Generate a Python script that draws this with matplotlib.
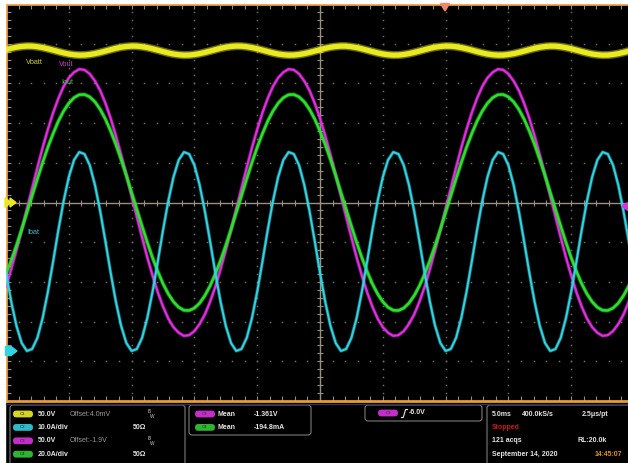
import numpy as np
import matplotlib
matplotlib.use("Agg")
import matplotlib.pyplot as plt
from matplotlib.patches import FancyBboxPatch, Polygon, Rectangle

W, H = 628, 463
fig = plt.figure(figsize=(W / 100, H / 100), dpi=100, facecolor="black")

# Acquisition time base (ms): 5 ms/div over 10 divisions
t_ms = np.linspace(0, 50, 121)

# C1: battery voltage (V)
vbat = [192.5, 194.2, 195.6, 196.5, 197.0, 196.9, 196.2, 195.1, 193.6, 191.9,
        190.1, 188.4, 187.0, 186.1, 185.6, 185.7, 186.4, 187.5, 189.0, 190.7,
        192.5, 194.2, 195.6, 196.5, 197.0, 196.9, 196.2, 195.1, 193.6, 191.9,
        190.1, 188.4, 187.0, 186.1, 185.6, 185.7, 186.4, 187.5, 189.0, 190.7,
        192.5, 194.2, 195.6, 196.5, 197.0, 196.9, 196.2, 195.1, 193.6, 191.9,
        190.1, 188.4, 187.0, 186.1, 185.6, 185.7, 186.4, 187.5, 189.0, 190.7,
        192.5, 194.2, 195.6, 196.5, 197.0, 196.9, 196.2, 195.1, 193.6, 191.9,
        190.1, 188.4, 187.0, 186.1, 185.6, 185.7, 186.4, 187.5, 189.0, 190.7,
        192.5, 194.2, 195.6, 196.5, 197.0, 196.9, 196.2, 195.1, 193.6, 191.9,
        190.1, 188.4, 187.0, 186.1, 185.6, 185.7, 186.4, 187.5, 189.0, 190.7,
        192.5, 194.2, 195.6, 196.5, 197.0, 196.9, 196.2, 195.1, 193.6, 191.9,
        190.1, 188.4, 187.0, 186.1, 185.6, 185.7, 186.4, 187.5, 189.0, 190.7,
        192.5]

# C2: battery current (A)
ibat = [19.8, 12.5, 6.4, 2.1, 0.1, 0.6, 3.4, 8.4, 15.0, 22.6,
        30.5, 37.8, 43.9, 48.2, 50.2, 49.7, 46.9, 41.9, 35.3, 27.7,
        19.8, 12.5, 6.4, 2.1, 0.1, 0.6, 3.4, 8.4, 15.0, 22.6,
        30.5, 37.8, 43.9, 48.2, 50.2, 49.7, 46.9, 41.9, 35.3, 27.7,
        19.8, 12.5, 6.4, 2.1, 0.1, 0.6, 3.4, 8.4, 15.0, 22.6,
        30.5, 37.8, 43.9, 48.2, 50.2, 49.7, 46.9, 41.9, 35.3, 27.7,
        19.8, 12.5, 6.4, 2.1, 0.1, 0.6, 3.4, 8.4, 15.0, 22.6,
        30.5, 37.8, 43.9, 48.2, 50.2, 49.7, 46.9, 41.9, 35.3, 27.7,
        19.8, 12.5, 6.4, 2.1, 0.1, 0.6, 3.4, 8.4, 15.0, 22.6,
        30.5, 37.8, 43.9, 48.2, 50.2, 49.7, 46.9, 41.9, 35.3, 27.7,
        19.8, 12.5, 6.4, 2.1, 0.1, 0.6, 3.4, 8.4, 15.0, 22.6,
        30.5, 37.8, 43.9, 48.2, 50.2, 49.7, 46.9, 41.9, 35.3, 27.7,
        19.8]

# C3: inverter output voltage (V)
vout = [-106, -84, -60, -35, -8, 18, 44, 69, 92, 113,
        131, 146, 157, 164, 168, 167, 162, 153, 141, 125,
        106, 84, 60, 35, 8, -18, -44, -69, -92, -113,
        -131, -146, -157, -164, -168, -167, -162, -153, -141, -125,
        -106, -84, -60, -35, -8, 18, 44, 69, 92, 113,
        131, 146, 157, 164, 168, 167, 162, 153, 141, 125,
        106, 84, 60, 35, 8, -18, -44, -69, -92, -113,
        -131, -146, -157, -164, -168, -167, -162, -153, -141, -125,
        -106, -84, -60, -35, -8, 18, 44, 69, 92, 113,
        131, 146, 157, 164, 168, 167, 162, 153, 141, 125,
        106, 84, 60, 35, 8, -18, -44, -69, -92, -113,
        -131, -146, -157, -164, -168, -167, -162, -153, -141, -125,
        -106]

# C4: inverter output current (A)
iout = [-36.0, -29.2, -21.6, -13.5, -5.1, 3.4, 11.9, 20.1, 27.8, 34.7,
        40.9, 46.0, 50.0, 52.8, 54.3, 54.4, 53.2, 50.7, 46.9, 42.0,
        36.0, 29.2, 21.6, 13.5, 5.1, -3.4, -11.9, -20.1, -27.8, -34.7,
        -40.9, -46.0, -50.0, -52.8, -54.3, -54.4, -53.2, -50.7, -46.9, -42.0,
        -36.0, -29.2, -21.6, -13.5, -5.1, 3.4, 11.9, 20.1, 27.8, 34.7,
        40.9, 46.0, 50.0, 52.8, 54.3, 54.4, 53.2, 50.7, 46.9, 42.0,
        36.0, 29.2, 21.6, 13.5, 5.1, -3.4, -11.9, -20.1, -27.8, -34.7,
        -40.9, -46.0, -50.0, -52.8, -54.3, -54.4, -53.2, -50.7, -46.9, -42.0,
        -36.0, -29.2, -21.6, -13.5, -5.1, 3.4, 11.9, 20.1, 27.8, 34.7,
        40.9, 46.0, 50.0, 52.8, 54.3, 54.4, 53.2, 50.7, 46.9, 42.0,
        36.0, 29.2, 21.6, 13.5, 5.1, -3.4, -11.9, -20.1, -27.8, -34.7,
        -40.9, -46.0, -50.0, -52.8, -54.3, -54.4, -53.2, -50.7, -46.9, -42.0,
        -36.0]

# Vertical settings per channel: (units per division, position in divisions)
ch_scale = {"C1": (50.0, 0.0), "C2": (10.0, -3.75), "C3": (50.0, 0.0), "C4": (20.0, 0.0)}
ch_color = {"C1": "#EAEA22", "C2": "#32D4E2", "C3": "#E02EE0", "C4": "#2EE02E"}


def to_div(vals, ch):
    per_div, pos = ch_scale[ch]
    return np.asarray(vals, dtype=float) / per_div + pos


FONT = "Liberation Sans"

# ---- graticule ------------------------------------------------------------
ax = fig.add_axes([6 / W, 1 - 401 / H, 628 / W, 397 / H])
ax.set_facecolor("black")
ax.set_xlim(0, 50)
ax.set_ylim(-5, 5)
for side in ("top", "left", "bottom"):
    ax.spines[side].set_color("#EC9A34")
    ax.spines[side].set_linewidth(2.0)
ax.spines["right"].set_visible(False)

ax.set_xticks(np.arange(0, 50.01, 5))
ax.set_xticks(np.arange(0, 50.01, 1), minor=True)
ax.set_yticks(np.arange(-5, 5.01, 1))
ax.set_yticks(np.arange(-5, 5.01, 0.2), minor=True)
ax.tick_params(which="both", direction="in", length=3.5, width=0.8, color="#8c8c8c",
               top=True, bottom=True, left=True, right=False,
               labelbottom=False, labelleft=False)

grid_c = "#6a6a6a"
ydots = np.arange(-4.8, 4.81, 0.2)
xdots = np.arange(1, 50, 1)
for xm in (5, 10, 15, 20, 30, 35, 40, 45):
    ax.plot(np.full(ydots.size, xm), ydots, ls="none", marker="s", ms=1.1,
            mew=0, color=grid_c, zorder=1)
for ym in (-4, -3, -2, -1, 1, 2, 3, 4):
    ax.plot(xdots, np.full(xdots.size, ym), ls="none", marker="s", ms=1.1,
            mew=0, color=grid_c, zorder=1)

cross_c = "#9a9082"
ax.axhline(0, color=cross_c, lw=1.0, zorder=2)
ax.axvline(25, color=cross_c, lw=1.0, zorder=2)
ax.plot(xdots, np.zeros(xdots.size), ls="none", marker="|", ms=4.5, mew=0.8,
        color=cross_c, zorder=2)
ax.plot(np.full(ydots.size, 25), ydots, ls="none", marker="_", ms=4.5, mew=0.8,
        color=cross_c, zorder=2)

# ---- traces: a soft halo under a solid core gives the noisy band look ------
traces = [("C1", vbat, 3.8, 5.8),
          ("C3", vout, 1.5, 2.6),
          ("C4", iout, 1.8, 3.0),
          ("C2", ibat, 1.4, 2.5)]
for z, (ch, vals, lw_core, lw_halo) in enumerate(traces):
    y = to_div(vals, ch)
    ax.plot(t_ms, y, color=ch_color[ch], lw=lw_halo, alpha=0.45,
            solid_joinstyle="round", zorder=5 + 2 * z)
    ax.plot(t_ms, y, color=ch_color[ch], lw=lw_core,
            solid_joinstyle="round", zorder=6 + 2 * z)

# ---- overlay in pixel coordinates -------------------------------------------
ov = fig.add_axes([0, 0, 1, 1], zorder=10)
ov.set_xlim(0, W)
ov.set_ylim(H, 0)
ov.axis("off")
ov.patch.set_alpha(0)

ov.add_patch(Rectangle((0, 0), 5.2, H, color="white", zorder=1))
ov.add_patch(Rectangle((0, 0), W, 3.0, color="white", zorder=1))
ov.plot([6, W], [403.6, 403.6], color="#24345a", lw=1.0)

# trace labels
for txt, x, y, c in (("Vbatt", 26, 62, "#CFCF40"), ("Vout", 59, 65, "#CC40CC"),
                     ("Iout", 61, 83, "#40C040"), ("Ibat", 27, 232, "#40B8C8")):
    ov.text(x, y, txt, color=c, fontsize=5.2, family=FONT, ha="left", va="center")

# ground / trigger markers
ov.add_patch(Polygon([(5, 197.5), (11, 202.5), (5, 207.5)], color=ch_color["C1"]))
ov.add_patch(Polygon([(10, 198), (16, 202.5), (10, 207)], color=ch_color["C1"]))
ov.add_patch(Polygon([(5.5, 346.5), (11, 346.5), (17, 351), (11, 355.5), (5.5, 355.5)],
                     color=ch_color["C2"]))
ov.add_patch(Polygon([(440.5, 3.5), (449.5, 3.5), (445, 11)], color="#F0866A"))
ov.add_patch(Polygon([(628, 202.5), (628, 210.5), (622, 206.5)], color=ch_color["C3"]))

# ---- status panel -----------------------------------------------------------
box_ec = "#7c7c7c"
for (x0, y0, w, h) in ((10, 405, 175, 70), (189, 405, 122, 30),
                       (365, 405, 117, 16), (487, 405, 160, 70)):
    ov.add_patch(FancyBboxPatch((x0, y0), w, h, boxstyle="round,pad=0,rounding_size=3",
                                ec=box_ec, fc="none", lw=0.8))

pill_c = {"C1": "#D6D622", "C2": "#2EBAC8", "C3": "#C42EC8", "C4": "#2EB42E"}


def pill(x, y, ch):
    ov.add_patch(FancyBboxPatch((x, y - 3.4), 20, 6.8,
                                boxstyle="round,pad=0,rounding_size=3.4",
                                fc=pill_c[ch], ec="none"))
    ov.text(x + 10, y, ch, fontsize=3.2, family=FONT, color="#2a2a2a",
            ha="center", va="center")


def label(x, y, s, color="#E6E6E6", weight="bold", size=5.0):
    ov.text(x, y, s, fontsize=size, family=FONT, fontweight=weight, color=color,
            ha="left", va="center")


rows = (("C1", "50.0V", "Offset:4.0mV", "bw"), ("C2", "10.0A/div", None, "50Ω"),
        ("C3", "50.0V", "Offset:-1.9V", "bw"), ("C4", "20.0A/div", None, "50Ω"))
for i, (ch, scale_txt, offset_txt, extra) in enumerate(rows):
    y = 414 + i * 13.4
    pill(13, y, ch)
    label(38, y, scale_txt)
    if offset_txt:
        label(70, y, offset_txt, color="#9a9a9a", weight="normal")
    if extra == "bw":
        ov.text(148, y - 2.2, "B", fontsize=3.4, family=FONT, color="#d0d0d0",
                ha="left", va="center")
        ov.text(150, y + 2.6, "W", fontsize=3.4, family=FONT, color="#d0d0d0",
                ha="left", va="center")
    else:
        label(133, y, extra)

for i, (ch, val) in enumerate((("C3", "-1.361V"), ("C4", "-194.8mA"))):
    y = 414 + i * 13.4
    pill(195, y, ch)
    label(218, y, "Mean")
    label(254, y, val)

pill(378, 413, "C3")
ov.plot([401.5, 403.2, 405.6, 407.5], [417.5, 417.5, 409.5, 409.5], color="#E6E6E6", lw=0.8)
label(409, 413, "-6.0V")

label(492, 414, "5.0ms")
label(522, 414, "400.0kS/s")
label(582, 414, "2.5μs/pt")
label(492, 427.4, "Stopped", color="#CC1A1A")
label(492, 440.8, "121 acqs")
label(578, 440.8, "RL:20.0k")
label(492, 454.2, "September 14, 2020")
label(595, 454.2, "14:45:07", color="#E0921E")

fig.savefig("out.png", dpi=100, facecolor="black")
